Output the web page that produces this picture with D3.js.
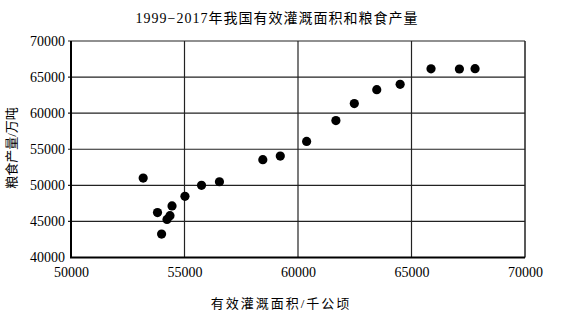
<!DOCTYPE html>
<html>
<head>
<meta charset="utf-8">
<script src="https://cdn.jsdelivr.net/npm/d3@7"></script>
<style>
  body { margin: 0; background: #fff; }
  text { fill: #000; }
</style>
</head>
<body>
<div id="chart"></div>
<script>
// 有效灌溉面积 (千公顷) vs 粮食产量 (万吨), 1999-2017
var years = [1999, 2000, 2001, 2002, 2003, 2004, 2005, 2006, 2007, 2008,
             2009, 2010, 2011, 2012, 2013, 2014, 2015, 2016, 2017]
var irrigated = [53180, 53810, 54230, 54360, 53990, 54450, 55020, 55750, 56540, 58450,
                 59220, 60380, 61670, 62480, 63470, 64500, 65860, 67110, 67800]
var grain = [51000, 46230, 45280, 45800, 43250, 47150, 48480, 50000, 50500, 53550,
             54050, 56080, 58970, 61330, 63250, 64000, 66150, 66120, 66170]

var xTicks = [50000, 55000, 60000, 65000, 70000]
var yTicks = [40000, 45000, 50000, 55000, 60000, 65000, 70000]

var dataset = years.map((d, i) => ({ year: d, x: irrigated[i], y: grain[i] }))

var width = 577
var height = 322
var margin = { top: 41, right: 52, bottom: 64.5, left: 71 }
var serif = "'Liberation Serif', 'Noto Sans CJK SC', serif"

var svg = d3.select("#chart")
    .append("svg")
    .attr("width", width)
    .attr("height", height)

var x = d3.scaleLinear()
    .domain([50000, 70000])
    .range([margin.left, width - margin.right])

var y = d3.scaleLinear()
    .domain([40000, 70000])
    .range([height - margin.bottom, margin.top])

// horizontal grid lines
svg.append("g")
    .selectAll("line")
    .data(yTicks.slice(1))
    .enter()
    .append("line")
    .attr("x1", x(50000) - 3)
    .attr("x2", x(70000))
    .attr("y1", d => y(d))
    .attr("y2", d => y(d))
    .attr("stroke", "#222")
    .attr("stroke-width", 1.2)

// vertical grid lines
svg.append("g")
    .selectAll("line")
    .data(xTicks.slice(1))
    .enter()
    .append("line")
    .attr("x1", d => x(d))
    .attr("x2", d => x(d))
    .attr("y1", y(70000))
    .attr("y2", y(40000))
    .attr("stroke", "#222")
    .attr("stroke-width", d => d == 70000 ? 1.5 : 1.2)

// axes
var yAxis = d3.axisLeft(y).tickValues(yTicks).tickSize(0).tickPadding(6).tickFormat(d3.format("d"))
var xAxis = d3.axisBottom(x).tickValues(xTicks).tickSize(0).tickPadding(10).tickFormat(d3.format("d"))

var gy = svg.append("g")
    .attr("transform", "translate(" + margin.left + ",0)")
    .call(yAxis)
gy.select(".domain").remove()
gy.selectAll("text")
    .style("font-family", serif)
    .style("font-size", "14px")

var gx = svg.append("g")
    .attr("transform", "translate(0," + (height - margin.bottom) + ")")
    .call(xAxis)
gx.select(".domain").remove()
gx.selectAll("text")
    .style("font-family", serif)
    .style("font-size", "14px")

// thick left and bottom axis lines
svg.append("path")
    .attr("d", "M" + x(50000) + "," + y(70000) + "V" + y(40000) + "H" + x(70000))
    .attr("fill", "none")
    .attr("stroke", "#000")
    .attr("stroke-width", 2)

// points
svg.append("g")
    .selectAll("circle")
    .data(dataset)
    .enter()
    .append("circle")
    .attr("cx", d => x(d.x))
    .attr("cy", d => y(d.y))
    .attr("r", 4.6)
    .attr("fill", "#000")

// title
svg.append("text")
    .attr("x", 277)
    .attr("y", 23)
    .attr("text-anchor", "middle")
    .style("font-family", serif)
    .style("font-size", "14px")
    .style("letter-spacing", "1px")
    .text("1999−2017年我国有效灌溉面积和粮食产量")

// axis titles
svg.append("text")
    .attr("x", 281)
    .attr("y", 308)
    .attr("text-anchor", "middle")
    .style("font-family", serif)
    .style("font-size", "13px")
    .style("letter-spacing", "2px")
    .text("有效灌溉面积/千公顷")

svg.append("text")
    .attr("transform", "translate(16,148) rotate(-90)")
    .attr("text-anchor", "middle")
    .style("font-family", serif)
    .style("font-size", "13px")
    .text("粮食产量/万吨")
</script>
</body>
</html>
